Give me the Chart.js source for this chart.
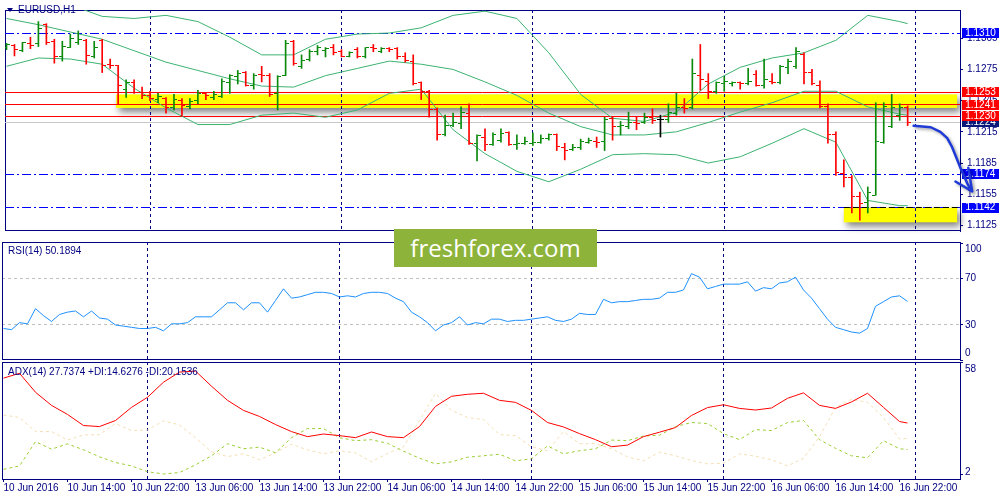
<!DOCTYPE html>
<html>
<head>
<meta charset="utf-8">
<script src="https://cdn.jsdelivr.net/npm/chart.js@4.4.0/dist/chart.umd.min.js"></script>
<style>
html, body { margin: 0; padding: 0; background: #fff; width: 1000px; height: 500px; overflow: hidden; }
canvas { position: absolute; left: 0; }
#main { top: 0; }
#rsi { top: 241px; }
#adx { top: 361px; }
#logo {
    position: absolute; left: 394px; top: 229px; width: 203px; height: 38px;
    background: #8db33a; color: #fff; font: 24px "Open Sans", sans-serif;
    line-height: 37px; text-align: center; z-index: 5;
}
</style>
</head>
<body>
<canvas id="main" width="1000" height="241"></canvas>
<canvas id="rsi" width="1000" height="120"></canvas>
<canvas id="adx" width="1000" height="139"></canvas>
<div id="logo">freshforex.com</div>
<script>
// EURUSD H1, one bar per hour from 10 Jun 06:00 (index 0) to 16 Jun 23:00 (index 113)
const OPEN = [1.1296,1.1298,1.1293,1.1300,1.1300,1.1318,1.1302,1.1287,1.1296,1.1301,
    1.1303,1.1287,1.1303,1.1280,1.1279,1.1256,1.1262,1.1253,1.1250,1.1246,
    1.1247,1.1238,1.1245,1.1239,1.1245,1.1252,1.1248,1.1249,1.1262,1.1268,
    1.1272,1.1260,1.1270,1.1269,1.1252,1.1269,1.1302,1.1278,1.1285,1.1292,
    1.1293,1.1296,1.1292,1.1287,1.1294,1.1287,1.1296,1.1292,1.1295,1.1295,
    1.1287,1.1283,1.1262,1.1254,1.1236,1.1212,1.1221,1.1223,1.1233,1.1204,
    1.1210,1.1203,1.1207,1.1214,1.1203,1.1204,1.1204,1.1205,1.1209,1.1212,
    1.1200,1.1198,1.1200,1.1205,1.1206,1.1206,1.1228,1.1220,1.1220,1.1224,
    1.1224,1.1229,1.1227,1.1227,1.1233,1.1238,1.1238,1.1269,1.1263,1.1254,
    1.1261,1.1261,1.1262,1.1261,1.1270,1.1260,1.1263,1.1262,1.1277,1.1278,
    1.1289,1.1272,1.1260,1.1239,1.1212,1.1175,1.1171,1.1153,1.1147,1.1154,
    1.1205,1.1220,1.1231,1.1238];
const HIGH = [1.1300,1.1299,1.1301,1.1306,1.1321,1.1319,1.1304,1.1302,1.1309,1.1312,
    1.1304,1.1302,1.1304,1.1285,1.1279,1.1265,1.1265,1.1258,1.1254,1.1252,
    1.1248,1.1251,1.1247,1.1247,1.1255,1.1253,1.1254,1.1266,1.1270,1.1274,
    1.1273,1.1271,1.1278,1.1271,1.1269,1.1303,1.1303,1.1289,1.1294,1.1298,
    1.1296,1.1299,1.1294,1.1292,1.1296,1.1296,1.1299,1.1296,1.1296,1.1296,
    1.1291,1.1289,1.1263,1.1255,1.1238,1.1231,1.1233,1.1239,1.1242,1.1212,
    1.1218,1.1214,1.1218,1.1215,1.1212,1.1210,1.1214,1.1212,1.1213,1.1213,
    1.1204,1.1203,1.1208,1.1209,1.1210,1.1229,1.1229,1.1225,1.1234,1.1229,
    1.1233,1.1237,1.1231,1.1242,1.1252,1.1247,1.1285,1.1299,1.1271,1.1263,
    1.1268,1.1263,1.1263,1.1276,1.1274,1.1285,1.1271,1.1279,1.1285,1.1296,
    1.1291,1.1275,1.1264,1.1242,1.1215,1.1188,1.1173,1.1157,1.1162,1.1243,
    1.1243,1.1251,1.1242,1.1240];
const LOW = [1.1294,1.1288,1.1292,1.1295,1.1297,1.1299,1.1281,1.1283,1.1296,1.1299,
    1.1280,1.1286,1.1272,1.1276,1.1241,1.1248,1.1252,1.1247,1.1245,1.1243,
    1.1233,1.1236,1.1230,1.1237,1.1242,1.1246,1.1246,1.1248,1.1252,1.1261,
    1.1259,1.1256,1.1263,1.1249,1.1236,1.1269,1.1279,1.1276,1.1283,1.1289,
    1.1287,1.1289,1.1287,1.1287,1.1286,1.1286,1.1292,1.1291,1.1292,1.1285,
    1.1282,1.1260,1.1246,1.1229,1.1207,1.1211,1.1220,1.1218,1.1203,1.1187,
    1.1197,1.1202,1.1205,1.1202,1.1198,1.1203,1.1202,1.1204,1.1207,1.1197,
    1.1188,1.1197,1.1198,1.1204,1.1200,1.1197,1.1207,1.1212,1.1218,1.1217,
    1.1223,1.1223,1.1210,1.1224,1.1231,1.1233,1.1237,1.1255,1.1247,1.1252,
    1.1254,1.1259,1.1256,1.1260,1.1259,1.1257,1.1261,1.1261,1.1271,1.1276,
    1.1261,1.1260,1.1238,1.1204,1.1173,1.1162,1.1137,1.1130,1.1137,1.1154,
    1.1204,1.1219,1.1226,1.1221];
const CLOSE = [1.1299,1.1294,1.1301,1.1298,1.1314,1.1301,1.1287,1.1297,1.1305,1.1304,
    1.1288,1.1296,1.1279,1.1279,1.1260,1.1262,1.1253,1.1250,1.1247,1.1249,
    1.1238,1.1246,1.1240,1.1244,1.1252,1.1250,1.1251,1.1263,1.1269,1.1271,
    1.1260,1.1269,1.1269,1.1251,1.1268,1.1300,1.1281,1.1284,1.1292,1.1296,
    1.1295,1.1291,1.1287,1.1291,1.1287,1.1296,1.1295,1.1295,1.1294,1.1287,
    1.1284,1.1261,1.1254,1.1236,1.1212,1.1221,1.1224,1.1234,1.1204,1.1211,
    1.1203,1.1212,1.1213,1.1203,1.1204,1.1206,1.1205,1.1209,1.1212,1.1201,
    1.1197,1.1200,1.1206,1.1207,1.1205,1.1227,1.1220,1.1221,1.1224,1.1223,
    1.1229,1.1226,1.1227,1.1234,1.1238,1.1237,1.1271,1.1265,1.1254,1.1262,
    1.1263,1.1262,1.1261,1.1263,1.1260,1.1265,1.1262,1.1278,1.1283,1.1292,
    1.1272,1.1261,1.1239,1.1212,1.1176,1.1171,1.1153,1.1146,1.1157,1.1206,
    1.1239,1.1238,1.1238,1.1224];

// Bollinger bands, read every 4th bar
const BB_IDX = [0,4,8,12,16,20,24,28,32,36,40,44,48,52,56,60,64,68,72,76,80,84,88,92,96,100,104,108,112,113];
const BB_UP = [1.1365,1.1349,1.1337,1.1326,1.1324,1.1327,1.1321,1.1306,1.1289,1.1289,
    1.1304,1.1309,1.1310,1.1315,1.1327,1.1331,1.1324,1.1291,1.1251,1.1228,
    1.1225,1.1234,1.1261,1.1277,1.1286,1.1291,1.1303,1.1327,1.1321,1.1319];
const BB_MID = [1.1324,1.1318,1.1311,1.1304,1.1293,1.1282,1.1274,1.1266,1.1259,1.1258,
    1.1269,1.1276,1.1283,1.1280,1.1275,1.1263,1.1250,1.1233,1.1220,1.1212,
    1.1212,1.1215,1.1224,1.1234,1.1243,1.1254,1.1254,1.1239,1.1232,1.1231];
const BB_LOW = [1.1278,1.1286,1.1285,1.1280,1.1257,1.1238,1.1222,1.1222,1.1231,1.1233,
    1.1229,1.1236,1.1252,1.1256,1.1217,1.1194,1.1177,1.1167,1.1179,1.1193,
    1.1194,1.1193,1.1185,1.1191,1.1204,1.1218,1.1205,1.1149,1.1144,1.1144];

// RSI(14), every bar
const RSI = [27,26,32,31,44,38,33,39,41,42, 37,42,36,35,30,29,28,27,27,28,
    25,31,31,32,37,37,37,43,49,49, 43,49,49,41,51,61,53,54,56,58,
    58,57,54,55,54,57,58,58,57,53, 50,41,37,32,25,30,32,37,30,32,
    31,35,35,33,34,34,35,36,37,34, 33,35,40,39,39,52,49,50,50,51,
    52,52,53,58,58,60,74,71,61,63, 65,65,65,67,59,62,61,66,67,71,
    60,53,44,35,28,26,24,23,27,46, 50,54,55,50.19];

// ADX(14), read every 2nd bar
const ADX_IDX = [0,2,4,6,8,10,12,14,16,18,20,22,24,26,28,30,32,34,36,38,40,42,44,46,48,50,
    52,54,56,58,60,62,64,66,68,70,72,74,76,78,80,82,84,86,88,90,92,94,96,98,100,102,104,106,108,110,112,113];
const ADX = [50,52.4,43,36.5,32,26.5,26,29,35.5,40.5, 48,53,53.5,46,39,34,31,27,23.5,21,
    22.3,21.5,20.5,23.3,21,20.5,26,36,41,42, 42.5,39,38,34,28,25.8,22.5,19.5,16,16.8,
    21,23.2,25.5,31.5,35.4,36.8,35,34.2,35.2,40, 42.7,36.5,35,38.2,42.5,35.5,28.5,27.74];
const PLUS_DI = [4.8,6.5,18.5,14.8,17.4,14.5,11,8.2,6.5,3.6, 2.5,3.2,7,11.5,17.5,15,15.8,13,20.5,25,
    25,20.5,19,19.5,17.7,13.8,10.3,7.5,8.5,10.8, 11.5,12.3,9,10,16.4,12.5,14,15,19.3,19,
    21.3,21.7,26,28,27.5,22.5,19.5,24.5,24,28, 29,19.5,15.2,11.5,10.5,19,15,14.63];
const MINUS_DI = [31.7,30.5,23.5,23.5,19.3,21.8,22,27.5,24,24.3, 28.8,26.8,20.5,13.5,11.1,12.5,9.5,13,17.3,14.4,
    12.5,14,12.9,8.5,12.7,16,29,42.5,34,30.5, 29.5,22,21.5,16,14,23.5,17.5,17.5,15,11,
    9,13.3,11.5,9.2,7.5,7.8,12.5,11.3,9.5,6.5, 10.3,21,35.5,39.5,38,30.5,19.8,20.15];

// axes
const PRICE_TICKS = [1.1125, 1.1155, 1.1185, 1.1215, 1.1245, 1.1275, 1.1305];
const RSI_TICKS = [100, 70, 30, 0];
const RSI_LEVELS = [70, 30];
const ADX_TICKS = [58, 2];
const TIME_IDX = [0,8,16,24,32,40,48,56,64,72,80,88,96,104,112];
const TIME_LABELS = ["10 Jun 2016","10 Jun 14:00","10 Jun 22:00","13 Jun 06:00","13 Jun 14:00",
    "13 Jun 22:00","14 Jun 06:00","14 Jun 14:00","14 Jun 22:00","15 Jun 06:00","15 Jun 14:00",
    "15 Jun 22:00","16 Jun 06:00","16 Jun 14:00","16 Jun 22:00"];
const MIDNIGHT = [18, 42, 66, 90, 114];

// drawn objects
const RED_LEVELS = [1.1253, 1.1241, 1.1230];
const BLUE_LEVELS = [1.1310, 1.1174, 1.1142];
const LAST_PRICE = 1.1224;
const ZONES = [[13.75, 119.2, 1.1251, 1.1238], [105, 119.2, 1.1142, 1.1128]];
const ARROW = [[113.75,1.12208],[115.9,1.12194],[117.1,1.12149],[117.96,1.12089],[118.59,1.12000],
    [119.21,1.11881],[119.84,1.11762],[120.54,1.11643],[121.09,1.11578]];
const ARROW_WINGS = [[118.99,1.11672],[120.6,1.11804]];

const NAVY = "#000080";
const FONT = '"Liberation Sans", Arial, sans-serif';
const FSIZE = 10;
const BULL = "#0a8a0a", BEAR = "#ff0000", DOJI = "#000000";
const X_MIN = -0.1875, X_MAX = 119.5625;

Chart.defaults.animation = false;
Chart.defaults.events = [];
Chart.defaults.plugins.legend.display = false;
Chart.defaults.plugins.tooltip.enabled = false;
Chart.defaults.font.family = FONT;

function barColor(i) {
    if (CLOSE[i] > OPEN[i]) return BULL;
    if (CLOSE[i] < OPEN[i]) return BEAR;
    return DOJI;
}

// little 7x1 images for the open (left) and close (right) ticks
function tickImage(color, side) {
    const c = document.createElement("canvas");
    c.width = 7; c.height = 1;
    const g = c.getContext("2d");
    g.fillStyle = color;
    g.fillRect(side < 0 ? 0 : 4, 0, 3, 1);
    return c;
}
const OPEN_IMG = {}, CLOSE_IMG = {};
[BULL, BEAR, DOJI].forEach(c => { OPEN_IMG[c] = tickImage(c, -1); CLOSE_IMG[c] = tickImage(c, 1); });

function xScale() {
    return { type: "linear", min: X_MIN, max: X_MAX, offset: false, display: false, grid: { offset: false } };
}

function rightAxis(extra) {
    return Object.assign({
        position: "right",
        afterFit: s => { s.width = 40; },
        grid: { drawOnChartArea: false, drawTicks: true, tickLength: 3, color: NAVY },
        border: { display: true, color: NAVY },
        ticks: { display: false }
    }, extra);
}

function hline(ctx, a, y, color, dash) {
    ctx.save();
    ctx.strokeStyle = color;
    ctx.lineWidth = 1;
    ctx.setLineDash(dash || []);
    ctx.beginPath();
    ctx.moveTo(a.left, y);
    ctx.lineTo(a.right, y);
    ctx.stroke();
    ctx.restore();
}

function panelFrame(chart, bottom) {
    const { ctx, chartArea: a, scales: { x } } = chart;
    ctx.save();
    // midnight separators
    ctx.strokeStyle = NAVY;
    ctx.lineWidth = 1;
    ctx.setLineDash([3, 3]);
    MIDNIGHT.forEach(i => {
        const px = Math.floor(x.getPixelForValue(i)) + 0.5;
        if (px > a.right) return;
        ctx.beginPath();
        ctx.moveTo(px, a.top);
        ctx.lineTo(px, a.bottom);
        ctx.stroke();
    });
    ctx.setLineDash([]);
    ctx.beginPath();
    ctx.moveTo(a.left + 0.5, a.top);
    ctx.lineTo(a.left + 0.5, a.bottom);
    ctx.moveTo(a.left, a.top + 0.5);
    ctx.lineTo(a.right, a.top + 0.5);
    if (bottom) {
        ctx.moveTo(a.left, a.bottom - 0.5);
        ctx.lineTo(a.right, a.bottom - 0.5);
    }
    ctx.stroke();
    ctx.restore();
}

function sideLabels(chart, values, fmt) {
    const { ctx, chartArea: a, scales: { y } } = chart;
    ctx.save();
    ctx.fillStyle = NAVY;
    ctx.font = FSIZE + "px " + FONT;
    ctx.textBaseline = "middle";
    values.forEach(v => {
        let py = y.getPixelForValue(v);
        py = Math.min(Math.max(py, a.top + 7), a.bottom - 7);
        ctx.fillText(fmt(v), a.right + 5, py);
    });
    ctx.restore();
}

function caption(chart, text, px, py) {
    const ctx = chart.ctx;
    ctx.save();
    ctx.fillStyle = NAVY;
    ctx.font = FSIZE + "px " + FONT;
    ctx.textBaseline = "middle";
    ctx.fillText(text, px, py);
    ctx.restore();
}

// ---------- main price window ----------
const mainDeco = {
    id: "mainDeco",
    beforeDatasetsDraw(chart) {
        const { ctx, chartArea: a, scales: { x, y } } = chart;
        const py = v => Math.floor(y.getPixelForValue(v)) + 0.5;
        // yellow zones with a soft shadow
        ZONES.forEach(z => {
            const x0 = x.getPixelForValue(z[0]), x1 = x.getPixelForValue(z[1]);
            const y0 = y.getPixelForValue(z[2]), y1 = y.getPixelForValue(z[3]);
            ctx.save();
            ctx.shadowColor = "rgba(0,0,0,0.5)";
            ctx.shadowBlur = 7;
            ctx.shadowOffsetX = 3;
            ctx.shadowOffsetY = 4;
            ctx.fillStyle = "#ffff00";
            ctx.fillRect(x0, y0, x1 - x0, y1 - y0);
            ctx.restore();
        });
        panelFrame(chart, true);
        hline(ctx, a, py(LAST_PRICE), "#c8c8c8");
        RED_LEVELS.forEach(v => hline(ctx, a, py(v), "#ff0000"));
        BLUE_LEVELS.forEach(v => hline(ctx, a, py(v), "#0000ff", [9, 3, 2, 3]));
        // black dashed edge on the lower zone
        const z = ZONES[1];
        ctx.save();
        ctx.strokeStyle = "#000000";
        ctx.setLineDash([6, 3]);
        ctx.beginPath();
        ctx.moveTo(x.getPixelForValue(z[0]), py(z[2]));
        ctx.lineTo(a.right, py(z[2]));
        ctx.stroke();
        ctx.restore();
    },
    afterDraw(chart) {
        const { ctx, chartArea: a, scales: { x, y } } = chart;
        // title with its little menu triangle
        ctx.save();
        ctx.fillStyle = NAVY;
        ctx.beginPath();
        ctx.moveTo(7, 8); ctx.lineTo(13, 8); ctx.lineTo(10, 12); ctx.closePath();
        ctx.fill();
        ctx.restore();
        caption(chart, "EURUSD,H1", 18, 10.5);
        // price tags on the axis
        const tags = [[LAST_PRICE, "#0b1a78"]]
            .concat(RED_LEVELS.slice().reverse().map(v => [v, "#ff0000"]))
            .concat(BLUE_LEVELS.map(v => [v, "#0000ff"]));
        ctx.save();
        ctx.font = FSIZE + "px " + FONT;
        ctx.textBaseline = "middle";
        ctx.textAlign = "center";
        tags.forEach(t => {
            const py = y.getPixelForValue(t[0]);
            ctx.fillStyle = t[1];
            ctx.fillRect(a.right + 2, Math.round(py) - 5, 37, 10);
            ctx.fillStyle = "#ffffff";
            ctx.fillText(t[0].toFixed(4), a.right + 20.5, py);
        });
        ctx.restore();
        // hand-drawn forecast arrow
        ctx.save();
        ctx.strokeStyle = "#1f3ad6";
        ctx.lineWidth = 2.5;
        ctx.lineJoin = "round";
        ctx.lineCap = "round";
        ctx.shadowColor = "rgba(0,0,0,0.35)";
        ctx.shadowBlur = 3;
        ctx.shadowOffsetX = 2;
        ctx.shadowOffsetY = 2;
        ctx.beginPath();
        ARROW.forEach((p, k) => {
            const px = x.getPixelForValue(p[0]), pyy = y.getPixelForValue(p[1]);
            if (k === 0) ctx.moveTo(px, pyy); else ctx.lineTo(px, pyy);
        });
        const tip = ARROW[ARROW.length - 1];
        ARROW_WINGS.forEach(w => {
            ctx.moveTo(x.getPixelForValue(w[0]), y.getPixelForValue(w[1]));
            ctx.lineTo(x.getPixelForValue(tip[0]), y.getPixelForValue(tip[1]));
        });
        ctx.stroke();
        ctx.restore();
    }
};

const bbLine = (vals) => ({
    type: "line",
    data: BB_IDX.map((i, k) => ({ x: i, y: vals[k] })),
    borderColor: "#3cb371",
    borderWidth: 1,
    pointRadius: 0,
    fill: false,
    order: 3
});

new Chart(document.getElementById("main"), {
    type: "bar",
    data: {
        datasets: [
            {
                type: "bar",
                data: HIGH.map((h, i) => ({ x: i, y: [LOW[i], h] })),
                backgroundColor: HIGH.map((h, i) => barColor(i)),
                barThickness: 1,
                borderWidth: 0,
                order: 1
            },
            {
                type: "scatter",
                data: OPEN.map((o, i) => ({ x: i, y: o })),
                pointStyle: c => OPEN_IMG[barColor(c.dataIndex)],
                pointRadius: 3,
                order: 0
            },
            {
                type: "scatter",
                data: CLOSE.map((v, i) => ({ x: i, y: v })),
                pointStyle: c => CLOSE_IMG[barColor(c.dataIndex)],
                pointRadius: 3,
                order: 0
            },
            bbLine(BB_UP),
            bbLine(BB_MID),
            bbLine(BB_LOW)
        ]
    },
    options: {
        responsive: false,
        layout: { padding: { left: 2, top: 2, right: 0, bottom: 1 } },
        scales: {
            x: xScale(),
            y: rightAxis({
                min: 1.111964,
                max: 1.133214,
                afterBuildTicks: s => { s.ticks = PRICE_TICKS.map(v => ({ value: v })); },
                ticks: {
                    display: true, color: NAVY, padding: 4,
                    font: { family: FONT, size: FSIZE },
                    callback: v => Number(v).toFixed(4)
                }
            })
        }
    },
    plugins: [mainDeco]
});

// ---------- RSI window ----------
new Chart(document.getElementById("rsi"), {
    type: "line",
    data: {
        datasets: [{
            data: RSI.map((v, i) => ({ x: i, y: v })),
            borderColor: "#1e90ff",
            borderWidth: 1,
            pointRadius: 0
        }]
    },
    options: {
        responsive: false,
        layout: { padding: { left: 2, top: 1, right: 0, bottom: 1 } },
        scales: {
            x: xScale(),
            y: rightAxis({
                min: 0, max: 101.1,
                afterBuildTicks: s => { s.ticks = RSI_TICKS.map(v => ({ value: v })); }
            })
        }
    },
    plugins: [{
        id: "rsiDeco",
        beforeDatasetsDraw(chart) {
            const { ctx, chartArea: a, scales: { y } } = chart;
            RSI_LEVELS.forEach(v => hline(ctx, a, Math.floor(y.getPixelForValue(v)) + 0.5, "#c0c0c0", [3, 3]));
            panelFrame(chart, true);
        },
        afterDraw(chart) {
            sideLabels(chart, RSI_TICKS, v => String(v));
            caption(chart, "RSI(14) 50.1894", 8, 10);
        }
    }]
});

// ---------- ADX window ----------
const adxLine = (vals, color, dash) => ({
    data: ADX_IDX.map((i, k) => ({ x: i, y: vals[k] })),
    borderColor: color,
    borderWidth: 1,
    borderDash: dash,
    pointRadius: 0
});

new Chart(document.getElementById("adx"), {
    type: "line",
    data: {
        datasets: [
            adxLine(ADX, "#ff0000", []),
            adxLine(PLUS_DI, "#9acd32", [3, 3]),
            adxLine(MINUS_DI, "#f5deb3", [3, 3])
        ]
    },
    options: {
        responsive: false,
        layout: { padding: { left: 2, top: 1, right: 0, bottom: 0 } },
        scales: {
            x: {
                type: "linear", min: X_MIN, max: X_MAX, offset: false, position: "bottom",
                afterFit: s => { s.height = 21; },
                afterBuildTicks: s => { s.ticks = TIME_IDX.map(v => ({ value: v })); },
                ticks: {
                    autoSkip: false, maxRotation: 0, align: "start", padding: 0,
                    color: NAVY, font: { family: FONT, size: FSIZE },
                    callback: (v, k) => TIME_LABELS[k]
                },
                grid: { drawOnChartArea: false, drawTicks: true, tickLength: 3, color: NAVY, offset: false },
                border: { display: true, color: NAVY }
            },
            y: rightAxis({
                min: 0, max: 58,
                afterBuildTicks: s => { s.ticks = ADX_TICKS.map(v => ({ value: v })); }
            })
        }
    },
    plugins: [{
        id: "adxDeco",
        beforeDatasetsDraw(chart) { panelFrame(chart, false); },
        afterDraw(chart) {
            sideLabels(chart, ADX_TICKS, v => String(v));
            caption(chart, "ADX(14) 27.7374 +DI:14.6276 -DI:20.1536", 8, 11);
        }
    }]
});
</script>
</body>
</html>
